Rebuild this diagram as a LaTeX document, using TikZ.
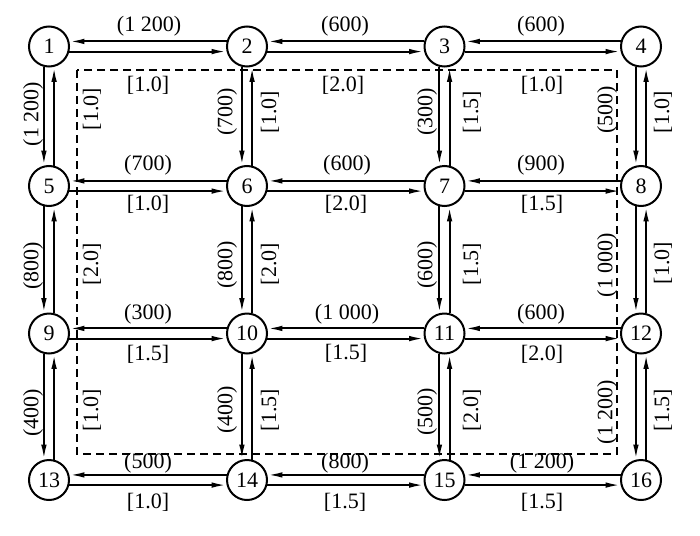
\documentclass[tikz,border=0pt]{standalone}
\usepackage{fontspec}
\setmainfont{Liberation Serif}
\usetikzlibrary{arrows.meta}
\begin{document}
\begin{tikzpicture}[x=1pt,y=-1pt,
  vtx/.style={circle,draw,line width=2pt,minimum size=40pt,inner sep=0pt,font=\fontsize{22}{22}\selectfont},
  arc/.style={line width=2pt,-{Latex[length=15pt,width=5.5pt]}},
  lab/.style={inner sep=0pt,font=\fontsize{22}{22}\selectfont},
  vlab/.style={lab,rotate=90},
  region/.style={line width=1.2pt,dash pattern=on 8pt off 5pt}]
\useasboundingbox (0,0) rectangle (700,535);
% region
\draw[region] (77,70) rectangle (617,454);
% vertices
\node[vtx] (n1)  at (49,46.5) {1};
\node[vtx] (n2)  at (247,46.5) {2};
\node[vtx] (n3)  at (444.5,46.5) {3};
\node[vtx] (n4)  at (641,46.5) {4};
\node[vtx] (n5)  at (49,186) {5};
\node[vtx] (n6)  at (247,186) {6};
\node[vtx] (n7)  at (444.5,186) {7};
\node[vtx] (n8)  at (641,186) {8};
\node[vtx] (n9)  at (49,333.5) {9};
\node[vtx] (n10) at (247,333.5) {10};
\node[vtx] (n11) at (444.5,333.5) {11};
\node[vtx] (n12) at (641,333.5) {12};
\node[vtx] (n13) at (49,480) {13};
\node[vtx] (n14) at (247,480) {14};
\node[vtx] (n15) at (444.5,480) {15};
\node[vtx] (n16) at (641,480) {16};
% horizontal arcs
\foreach \a/\b in {1/2,2/3,3/4,5/6,6/7,7/8,9/10,10/11,11/12,13/14,14/15,15/16}{
  \draw[arc] (n\b.166) -- (n\a.14);
  \draw[arc] (n\a.-14) -- (n\b.194);
}
% vertical arcs
\foreach \a/\b in {1/5,2/6,3/7,4/8,5/9,6/10,7/11,8/12,9/13,10/14,11/15,12/16}{
  \draw[arc] (n\a.256) -- (n\b.104);
  \draw[arc] (n\b.76) -- (n\a.284);
}
% horizontal labels
\node[lab] (h12c)   at (149,26)  {(1 200)};
\node[lab] (h23c)   at (345,26)  {(600)};
\node[lab] (h34c)   at (541,26)  {(600)};
\node[lab] (h56c)   at (148,165) {(700)};
\node[lab] (h67c)   at (347,165) {(600)};
\node[lab] (h78c)   at (541,165) {(900)};
\node[lab] (h910c)  at (148,314) {(300)};
\node[lab] (h1011c) at (347,314) {(1 000)};
\node[lab] (h1112c) at (541,314) {(600)};
\node[lab] (h1314c) at (148,463) {(500)};
\node[lab] (h1415c) at (345,463) {(800)};
\node[lab] (h1516c) at (542,463) {(1 200)};
\node[lab] (h12x)   at (148,85)  {[1.0]};
\node[lab] (h23x)   at (343,85)  {[2.0]};
\node[lab] (h34x)   at (542,85)  {[1.0]};
\node[lab] (h56x)   at (148,204) {[1.0]};
\node[lab] (h67x)   at (346,204) {[2.0]};
\node[lab] (h78x)   at (542,204) {[1.5]};
\node[lab] (h910x)  at (148,354) {[1.5]};
\node[lab] (h1011x) at (346,353) {[1.5]};
\node[lab] (h1112x) at (542,354) {[2.0]};
\node[lab] (h1314x) at (148,502) {[1.0]};
\node[lab] (h1415x) at (345,502) {[1.5]};
\node[lab] (h1516x) at (542,502) {[1.5]};
% vertical labels
\node[vlab] (v15c)   at (33,114)  {(1 200)};
\node[vlab] (v15x)   at (92,109)  {[1.0]};
\node[vlab] (v26c)   at (227,112) {(700)};
\node[vlab] (v26x)   at (270,112) {[1.0]};
\node[vlab] (v37c)   at (427,112) {(300)};
\node[vlab] (v37x)   at (472,112) {[1.5]};
\node[vlab] (v48c)   at (607,110) {(500)};
\node[vlab] (v48x)   at (663,112) {[1.0]};
\node[vlab] (v59c)   at (33,266)  {(800)};
\node[vlab] (v59x)   at (92,264)  {[2.0]};
\node[vlab] (v610c)  at (227,265) {(800)};
\node[vlab] (v610x)  at (270,264) {[2.0]};
\node[vlab] (v711c)  at (427,265) {(600)};
\node[vlab] (v711x)  at (472,264) {[1.5]};
\node[vlab] (v812c)  at (607,265) {(1 000)};
\node[vlab] (v812x)  at (663,263) {[1.0]};
\node[vlab] (v913c)  at (33,413)  {(400)};
\node[vlab] (v913x)  at (92,410)  {[1.0]};
\node[vlab] (v1014c) at (227,410) {(400)};
\node[vlab] (v1014x) at (270,410) {[1.5]};
\node[vlab] (v1115c) at (427,412) {(500)};
\node[vlab] (v1115x) at (472,410) {[2.0]};
\node[vlab] (v1216c) at (607,412) {(1 200)};
\node[vlab] (v1216x) at (663,410) {[1.5]};
\end{tikzpicture}
\end{document}
